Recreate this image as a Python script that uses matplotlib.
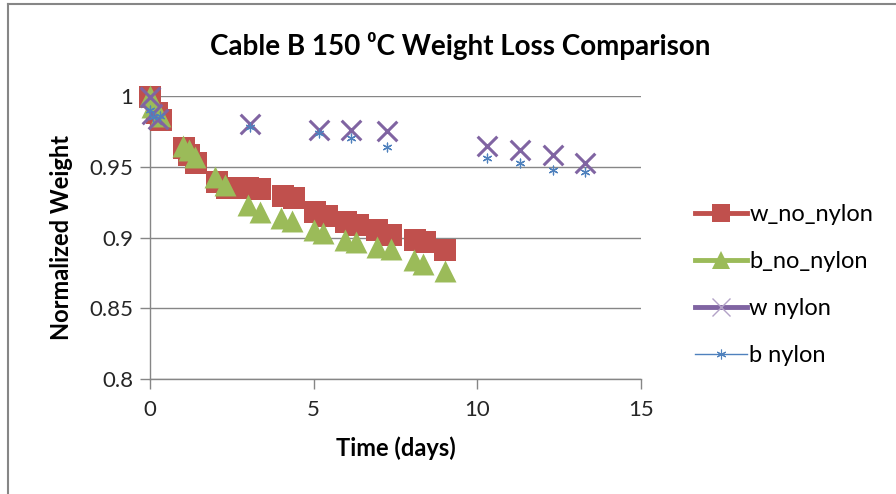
import matplotlib
matplotlib.use("Agg")
import matplotlib.pyplot as plt
from matplotlib.lines import Line2D

plt.rcParams['font.family'] = ['Lato', 'DejaVu Sans']

# data
w_no_x = [0, 0.2, 0.35, 1.05, 1.2, 1.4, 2.05, 2.35, 3.0, 3.35, 4.05, 4.4,
          5.05, 5.4, 6.0, 6.35, 6.95, 7.35, 8.1, 8.4, 9.0]
w_no_y = [0.999, 0.988, 0.983, 0.963, 0.958, 0.953, 0.939, 0.935, 0.935, 0.934,
          0.929, 0.928, 0.918, 0.915, 0.911, 0.909, 0.905, 0.902, 0.898, 0.897, 0.891]

b_no_x = [0, 0.06, 0.3, 1.0, 1.2, 1.37, 2.0, 2.3, 3.0, 3.35, 4.0, 4.35,
          5.0, 5.3, 5.95, 6.3, 6.95, 7.35, 8.05, 8.35, 9.0]
b_no_y = [1.0, 0.992, 0.986, 0.965, 0.962, 0.957, 0.943, 0.937, 0.923, 0.918,
          0.914, 0.912, 0.905, 0.903, 0.898, 0.897, 0.893, 0.892, 0.884, 0.881, 0.876]

w_ny_x = [0, 0.05, 0.25, 3.05, 5.15, 6.15, 7.25, 10.3, 11.3, 12.3, 13.3]
w_ny_y = [0.999, 0.987, 0.984, 0.980, 0.976, 0.976, 0.975, 0.965, 0.962, 0.958, 0.953]

b_ny_x = [0, 0.1, 0.3, 3.05, 5.15, 6.15, 7.25, 10.3, 11.3, 12.3, 13.3]
b_ny_y = [0.990, 0.985, 0.986, 0.978, 0.974, 0.970, 0.964, 0.956, 0.953, 0.948, 0.946]

red = '#C0504D'
green = '#9BBB59'
purple = '#8064A2'
blue = '#4F81BD'
grey = '#868686'

fig = plt.figure(figsize=(8.96, 4.94), dpi=100)
ax = fig.add_axes([150 / 896, 1 - 379 / 494, (641 - 150) / 896, (379 - 96) / 494])

ax.scatter(w_no_x, w_no_y, marker='s', s=240, color=red, linewidths=0, clip_on=False, zorder=3)
ax.scatter(b_no_x, b_no_y, marker='^', s=250, color=green, linewidths=0, clip_on=False, zorder=4)
ax.scatter(w_ny_x, w_ny_y, marker='x', s=200, color=purple, linewidths=2.2, clip_on=False, zorder=5)
ax.scatter(b_ny_x, b_ny_y, marker=(6, 2, 0), s=40, color=blue, linewidths=0.9, clip_on=False, zorder=6)

ax.set_xlim(0, 15)
ax.set_ylim(0.8, 1.0)
ax.set_xticks([0, 5, 10, 15])
ax.set_yticks([0.8, 0.85, 0.9, 0.95, 1.0])
ax.set_yticklabels(['0.8', '0.85', '0.9', '0.95', '1'])
ax.yaxis.grid(True, color=grey, linewidth=1)
ax.set_axisbelow(True)
for s in ['top', 'right']:
    ax.spines[s].set_visible(False)
for s in ['left', 'bottom']:
    ax.spines[s].set_color(grey)
    ax.spines[s].set_linewidth(1)
ax.tick_params(direction='out', length=7, width=1, color=grey, labelsize=16,
               labelcolor='#262626', pad=5)
ax.tick_params(axis='x', pad=8)

ax.set_xlabel('Time (days)', fontsize=17, fontweight='bold', labelpad=12)
ax.set_ylabel('Normalized Weight', fontsize=17, fontweight='bold', labelpad=12)
fig.text(460 / 896, 1 - 46 / 494, 'Cable B 150 \u2070C Weight Loss Comparison',
         ha='center', va='center', fontsize=20, fontweight='bold')

handles = [
    Line2D([], [], color=red, lw=3.5, marker='s', ms=13, mew=0),
    Line2D([], [], color=green, lw=3.5, marker='^', ms=13, mew=0),
    Line2D([], [], color=purple, lw=3.5, marker='x', ms=13, mew=1, mec='#B3A2C7'),
    Line2D([], [], color=blue, lw=1, marker=(6, 2, 0), ms=7, mew=0.8),
]
labels = ['w_no_nylon', 'b_no_nylon', 'w nylon', 'b nylon']
fig.legend(handles, labels, loc='upper left', bbox_to_anchor=(695 / 896, 1 - 204 / 494),
           frameon=False, fontsize=17, handlelength=2.2, handletextpad=0.1,
           labelspacing=1.1, borderaxespad=0, borderpad=0)

# chart area frame lines
fig.add_artist(Line2D([8 / 896, 8 / 896], [0, 1 - 4 / 494], color=grey, lw=1.5))
fig.add_artist(Line2D([8 / 896, 1], [1 - 4 / 494, 1 - 4 / 494], color=grey, lw=1.5))

fig.savefig('out.png', dpi=100)
